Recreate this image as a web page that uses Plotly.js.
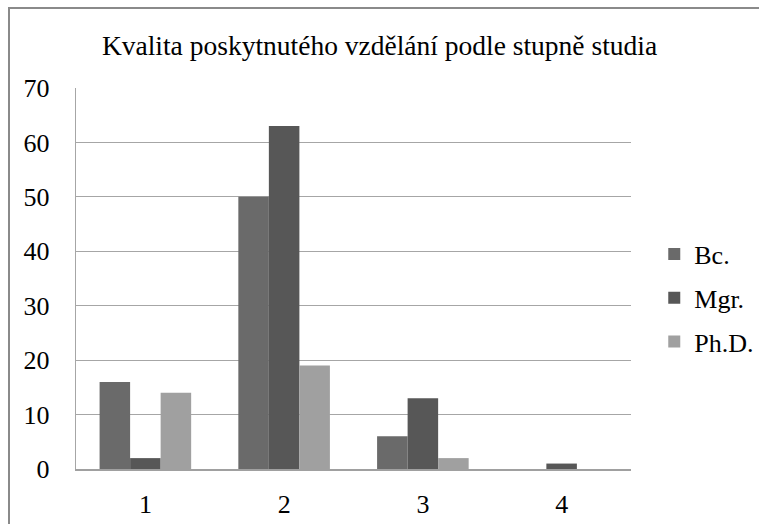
<!DOCTYPE html>
<html>
<head>
<meta charset="utf-8">
<script src="https://cdn.plot.ly/plotly-3.0.1.min.js"></script>
<style>
  html, body { margin: 0; padding: 0; background: #fff; }
  #chart { width: 759px; height: 524px; }
  #frame { position: absolute; left: 8px; top: 7px; width: 760px; height: 530px;
           border-left: 2px solid #8a8a8a; border-top: 2px solid #8a8a8a; pointer-events: none; }
</style>
</head>
<body>
<div id="chart"></div>
<div id="frame"></div>
<script>
const categories = ["1", "2", "3", "4"];
const bc = [16, 50, 6, 0];
const mgr = [2, 63, 13, 1];
const phd = [14, 19, 2, 0];
const seriesNames = ["Bc.", "Mgr.", "Ph.D."];
const colors = ["#6a6a6a", "#575757", "#a0a0a0"];
const yTicks = [0, 10, 20, 30, 40, 50, 60, 70];

const serif = "Liberation Serif";
const data = [bc, mgr, phd].map((vals, i) => ({
  type: "bar",
  x: categories,
  y: vals,
  name: seriesNames[i],
  legendgroup: "g" + i,
  marker: { color: colors[i], line: { width: 0 } }
}));

const layout = {
  width: 759, height: 524,
  margin: { l: 76, r: 128, t: 88, b: 55, autoexpand: false },
  paper_bgcolor: "#fff", plot_bgcolor: "#fff",
  font: { family: serif, color: "#000", size: 26 },
  title: { text: "Kvalita poskytnutého vzdělání podle stupně studia",
           font: { family: serif, size: 27.5, color: "#000" },
           x: 0.5, xanchor: "center", y: 1 - 45/524, yanchor: "middle", yref: "container" },
  barmode: "group", bargap: 0.34, bargroupgap: 0,
  xaxis: { type: "category", showgrid: false, showline: true, linecolor: "#a0a0a0", linewidth: 1.5,
           ticks: "", ticklabelstandoff: 11, tickfont: { family: serif, size: 26 } },
  yaxis: { range: [0, 70], tickvals: yTicks, showgrid: true, gridcolor: "#a6a6a6", gridwidth: 1.2,
           showline: true, linecolor: "#a6a6a6", linewidth: 1.2, zeroline: false,
           ticks: "", ticklabelstandoff: 20, tickfont: { family: serif, size: 26 } },
  showlegend: true,
  legend: { xref: "container", yref: "container", x: 0.862, xanchor: "left", y: 1 - 298/524, yanchor: "middle",
            traceorder: "grouped", tracegroupgap: 7,
            font: { family: serif, size: 26, color: "#000" }, bgcolor: "rgba(0,0,0,0)" }
};

Plotly.newPlot("chart", data, layout, { displayModeBar: false, staticPlot: true });
</script>
</body>
</html>
